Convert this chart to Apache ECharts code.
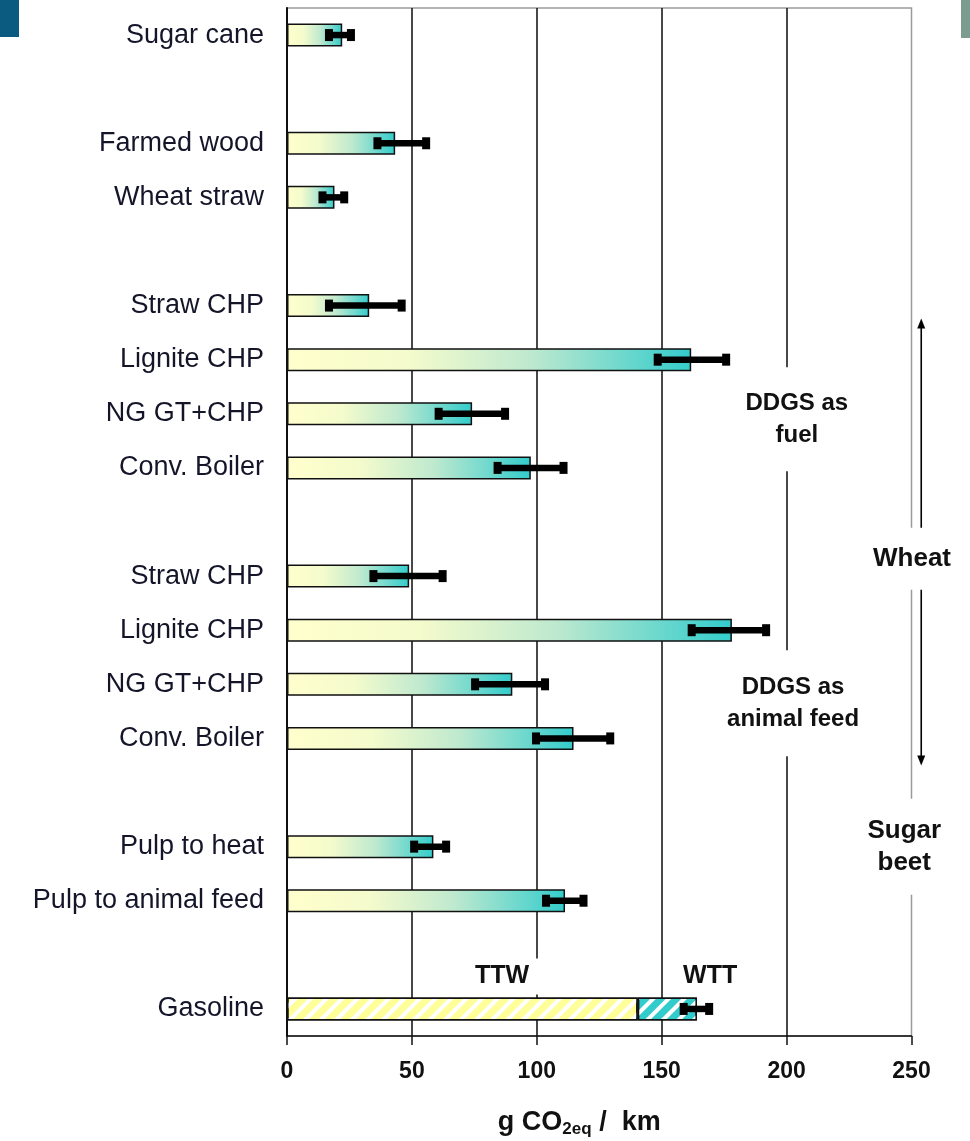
<!DOCTYPE html>
<html>
<head>
<meta charset="utf-8">
<script src="https://cdn.jsdelivr.net/npm/echarts@6/dist/echarts.min.js"></script>
<style>html,body{margin:0;padding:0;background:#fff}#chart{width:970px;height:1141px}</style>
</head>
<body>
<div id="chart"></div>
<script>
// ---- data ----
const categories = ['Sugar cane', '', 'Farmed wood', 'Wheat straw', '', 'Straw CHP', 'Lignite CHP', 'NG GT+CHP', 'Conv. Boiler', '', 'Straw CHP', 'Lignite CHP', 'NG GT+CHP', 'Conv. Boiler', '', 'Pulp to heat', 'Pulp to animal feed', '', 'Gasoline'];
const barValues = [22.1, null, 43.3, 19.0, null, 32.9, 161.8, 74.1, 97.6, null, 48.9, 178.1, 90.2, 114.7, null, 58.6, 111.3, null, null];
const gasolineTTW = [null, null, null, null, null, null, null, null, null, null, null, null, null, null, null, null, null, null, 140.4];
const gasolineWTT = [null, null, null, null, null, null, null, null, null, null, null, null, null, null, null, null, null, null, 23.7];
const errLow  = [16.8, null, 36.2, 14.2, null, 16.8, 148.4, 60.7, 84.3, null, 34.6, 162.0, 75.3, 99.7, null, 50.9, 103.7, null, 158.8];
const errHigh = [25.6, null, 55.7, 22.9, null, 45.9, 175.8, 87.3, 110.7, null, 62.3, 191.8, 103.3, 129.4, null, 63.7, 118.7, null, 169.0];
const xTicks = [0, 50, 100, 150, 200, 250];

// ---- annotations (text + position in data coordinates) ----
const annotations = [
  { text: 'DDGS as\nfuel', x: 204.1, c: 7.10, size: 24, lh: 32, pad: [20, 6] },
  { text: 'DDGS as\nanimal feed', x: 202.6, c: 12.35, size: 24, lh: 32, pad: [21, 4] },
  { text: 'TTW', x: 86.1, c: 17.40, size: 25, lh: 26, pad: [5, 11] },
  { text: 'WTT', x: 169.4, c: 17.40, size: 25, lh: 26, pad: [5, 3] },
  { text: 'Wheat', x: 250.2, c: 9.68, size: 26, lh: 28, pad: [17, 5] },
  { text: 'Sugar\nbeet', x: 247.1, c: 15.0, size: 26, lh: 32, pad: [16, 5] }
];
const wheatArrow = { x: 253.9, from: 5.24, to: 13.5 };

const FONT = '"Liberation Sans", Arial, sans-serif';
const NARROW = '"Liberation Sans Narrow", "Arial Narrow", "Liberation Sans", Arial, sans-serif';

function coordAt(api, x, c) {
  const i = Math.floor(c);
  const p = api.coord([x, i]);
  return [p[0], p[1] + (c - i) * api.size([0, 1])[1]];
}

const gradient = {
  type: 'linear', x: 0, y: 0, x2: 1, y2: 0,
  colorStops: [
    { offset: 0, color: '#ffffcc' },
    { offset: 0.3, color: '#f4fbcc' },
    { offset: 0.6, color: '#bfe9cf' },
    { offset: 1, color: '#33cccc' }
  ]
};
const hatch = {
  symbol: 'rect', symbolSize: 1, color: '#ffffff',
  dashArrayX: [1, 0], dashArrayY: [3, 5], rotation: -Math.PI / 4
};

const errData = [];
categories.forEach((c, i) => { if (errLow[i] != null) errData.push([i, errLow[i], errHigh[i]]); });

const chart = echarts.init(document.getElementById('chart'), null, { renderer: 'canvas' });
chart.setOption({
  animation: false,
  backgroundColor: '#fff',
  graphic: [
    { type: 'rect', left: 0, top: 0, shape: { width: 19, height: 37 }, style: { fill: '#0b5a80' }, z: 10 },
    { type: 'rect', right: 0, top: 0, shape: { width: 9, height: 38 }, style: { fill: '#7c9c8f' }, z: 10 }
  ],
  grid: { left: 287, right: 58.5, top: 8, bottom: 105, show: true, borderColor: '#9a9a9a', borderWidth: 1.5, containLabel: false, outerBoundsMode: 'none' },
  xAxis: {
    type: 'value', min: xTicks[0], max: xTicks[xTicks.length - 1], interval: xTicks[1] - xTicks[0],
    axisLine: { show: true, lineStyle: { color: '#111', width: 1.5 } },
    axisTick: { show: true, length: 9, lineStyle: { color: '#111', width: 1.5 } },
    axisLabel: { margin: 24, fontFamily: NARROW, fontWeight: 'bold', fontSize: 23, color: '#111' },
    splitLine: { show: true, showMinLine: false, showMaxLine: false, lineStyle: { color: '#1a1a1a', width: 1.6 } },
    name: 'g CO{sub|2eq} /  km',
    nameLocation: 'middle', nameGap: 72,
    nameTextStyle: {
      fontFamily: FONT, fontWeight: 'bold', fontSize: 27, color: '#111', lineHeight: 30, padding: [0, 40, 0, 0],
      rich: { sub: { fontFamily: FONT, fontWeight: 'bold', fontSize: 17, lineHeight: 30, verticalAlign: 'bottom', color: '#111' } }
    }
  },
  yAxis: {
    type: 'category', inverse: true, data: categories,
    axisLine: { show: true, lineStyle: { color: '#111', width: 2 } },
    axisTick: { show: false },
    splitLine: { show: false },
    axisLabel: { interval: 0, margin: 23, fontFamily: FONT, fontSize: 27, color: '#15152a' }
  },
  series: [
    {
      type: 'bar', stack: 'total', barWidth: 23, z: 2,
      data: barValues.map(v => v == null ? '-' : v),
      itemStyle: { color: gradient, borderColor: '#111', borderWidth: 1.5 }
    },
    {
      type: 'bar', stack: 'total', barWidth: 23, z: 2,
      data: gasolineTTW.map(v => v == null ? '-' : v),
      itemStyle: { color: '#ffff99', borderColor: '#111', borderWidth: 1.5, decal: Object.assign({}, hatch, { dashArrayY: [4, 7] }) }
    },
    {
      type: 'bar', stack: 'total', barWidth: 23, z: 2,
      data: gasolineWTT.map(v => v == null ? '-' : v),
      itemStyle: { color: '#33cccc', borderColor: '#111', borderWidth: 1.5, decal: Object.assign({}, hatch, { dashArrayY: [4, 7] }) }
    },
    {
      type: 'custom', z: 3, clip: false,
      encode: { x: [1, 2], y: 0 },
      data: errData,
      renderItem: (params, api) => {
        const y = api.value(0);
        const a = api.coord([api.value(1), y]);
        const b = api.coord([api.value(2), y]);
        const lw = 6.5, capW = 8, capH = 12;
        return {
          type: 'group', children: [
            { type: 'rect', shape: { x: a[0], y: a[1] - lw / 2, width: b[0] - a[0], height: lw }, style: { fill: '#000' } },
            { type: 'rect', shape: { x: a[0] - capW / 2, y: a[1] - capH / 2, width: capW, height: capH }, style: { fill: '#000' } },
            { type: 'rect', shape: { x: b[0] - capW / 2, y: b[1] - capH / 2, width: capW, height: capH }, style: { fill: '#000' } }
          ]
        };
      }
    },
    {
      type: 'custom', z: 4, clip: false,
      encode: { x: 0, y: 1 },
      data: [[wheatArrow.x, Math.floor(wheatArrow.from)]],
      renderItem: (params, api) => {
        const t = coordAt(api, wheatArrow.x, wheatArrow.from);
        const b = coordAt(api, wheatArrow.x, wheatArrow.to);
        const hw = 4, hh = 10;
        return {
          type: 'group', children: [
            { type: 'line', shape: { x1: t[0], y1: t[1] + hh - 1, x2: b[0], y2: b[1] - hh + 1 }, style: { stroke: '#000', lineWidth: 1.6 } },
            { type: 'polygon', shape: { points: [[t[0], t[1]], [t[0] - hw, t[1] + hh], [t[0] + hw, t[1] + hh]] }, style: { fill: '#000' } },
            { type: 'polygon', shape: { points: [[b[0], b[1]], [b[0] - hw, b[1] - hh], [b[0] + hw, b[1] - hh]] }, style: { fill: '#000' } }
          ]
        };
      }
    },
    {
      type: 'custom', z: 5, clip: false,
      encode: { x: 0, y: 1 },
      data: annotations.map(a => [a.x, Math.floor(a.c)]),
      renderItem: (params, api) => {
        const a = annotations[params.dataIndex];
        const p = coordAt(api, a.x, a.c);
        return {
          type: 'text', x: p[0], y: p[1],
          style: {
            text: a.text, fill: '#111', fontFamily: FONT, fontWeight: 'bold', fontSize: a.size,
            lineHeight: a.lh, align: 'center', verticalAlign: 'middle',
            backgroundColor: '#fff', padding: a.pad
          }
        };
      }
    }
  ]
});
</script>
</body>
</html>
